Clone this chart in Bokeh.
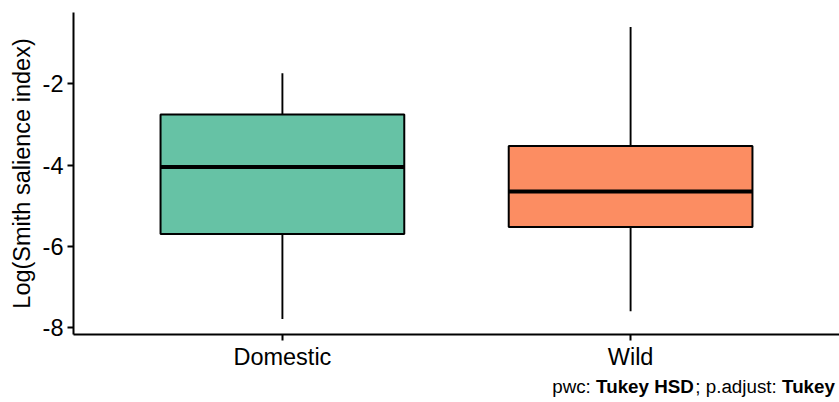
from bokeh.plotting import figure
from bokeh.models import Range1d, FixedTicker, Label
from bokeh.layouts import column
from bokeh.embed import file_html
from bokeh.resources import INLINE

# ---- data ----
categories = ["Domestic", "Wild"]
lower_whisker = [-7.78, -7.59]
q1 = [-5.69, -5.52]
median = [-4.05, -4.65]
q3 = [-2.76, -3.53]
upper_whisker = [-1.75, -0.61]
fill_colors = ["#66C2A5", "#FC8D62"]
y_ticks = [-8, -6, -4, -2]
y_tick_labels = ["-8", "-6", "-4", "-2"]
y_title = "Log(Smith salience index)"
caption_parts = [("pwc: ", "normal"), ("Tukey HSD", "bold"), ("; p.adjust: ", "normal"), ("Tukey", "bold")]

FONT = "Liberation Sans"
xs = list(range(1, len(categories) + 1))

W, H = 839, 374
ML, MR, MT, MB = 73, 0, 12, 40
X0, X1 = 0.4, 2.6
Y0, Y1 = -8.16, -0.256

p = figure(width=W, height=H, output_backend="svg", toolbar_location=None,
           x_range=Range1d(X0, X1), y_range=Range1d(Y0, Y1),
           min_border_left=ML, min_border_right=MR, min_border_top=MT, min_border_bottom=MB)
p.outline_line_color = None
p.xgrid.visible = False
p.ygrid.visible = False
p.background_fill_color = "white"
p.border_fill_color = "white"

# whiskers
p.segment(x0=xs, y0=q3, x1=xs, y1=upper_whisker, line_color="black", line_width=1.9)
p.segment(x0=xs, y0=q1, x1=xs, y1=lower_whisker, line_color="black", line_width=1.9)
# boxes
p.vbar(x=xs, width=0.7, top=q3, bottom=q1, fill_color=fill_colors,
       line_color="black", line_width=2)
# medians
p.segment(x0=[x - 0.35 for x in xs], y0=median, x1=[x + 0.35 for x in xs], y1=median,
          line_color="black", line_width=4)

# axes
for ax in (p.xaxis[0], p.yaxis[0]):
    ax.axis_line_color = "black"
    ax.axis_line_width = 2
    ax.major_tick_line_color = "black"
    ax.major_tick_line_width = 2
    ax.major_tick_out = 6
    ax.major_tick_in = 0
    ax.minor_tick_line_color = None
    ax.major_label_text_font = FONT
    ax.major_label_text_font_size = "23.5px"
    ax.major_label_text_color = "black"

p.xaxis.ticker = FixedTicker(ticks=xs)
p.xaxis.major_label_overrides = {x: c for x, c in zip(xs, categories)}
p.xaxis.major_label_standoff = 3

p.yaxis.ticker = FixedTicker(ticks=y_ticks)
p.yaxis.major_label_overrides = {t: s for t, s in zip(y_ticks, y_tick_labels)}
p.yaxis.major_label_standoff = 4
p.yaxis.axis_label = y_title
p.yaxis.axis_label_text_font = FONT
p.yaxis.axis_label_text_font_size = "23.5px"
p.yaxis.axis_label_text_font_style = "normal"
p.yaxis.axis_label_text_color = "black"
p.yaxis.axis_label_standoff = 5

# caption strip below the chart (mixed normal / bold pieces, Arial metrics).
# Its frame is aligned with the main frame by the column layout, so x is in page pixels.
CH = 402 - H
cap = figure(width=W, height=CH, output_backend="svg", toolbar_location=None,
             x_range=Range1d(ML, W), y_range=Range1d(0, CH),
             x_axis_type=None, y_axis_type=None,
             min_border=0, min_border_left=0, min_border_right=0,
             min_border_top=0, min_border_bottom=0)
cap.grid.visible = False
cap.outline_line_color = None
cap.background_fill_color = "white"
cap.border_fill_color = "white"

widths_em = {"pwc: ": 2.334, "Tukey HSD": 5.279, "; p.adjust: ": 4.614, "Tukey": 2.89}
cap_size = 18.8
x_px = 551.7
for txt, style in caption_parts:
    cap.add_layout(Label(x=x_px, y=CH - 12, text=txt.strip(), text_font=FONT,
                         text_font_size=f"{cap_size}px", text_font_style=style,
                         text_color="black", text_baseline="middle", text_align="left"))
    x_px += widths_em[txt] * cap_size

layout = column(p, cap, spacing=0)
open("out.html", "w").write(file_html(layout, INLINE))
